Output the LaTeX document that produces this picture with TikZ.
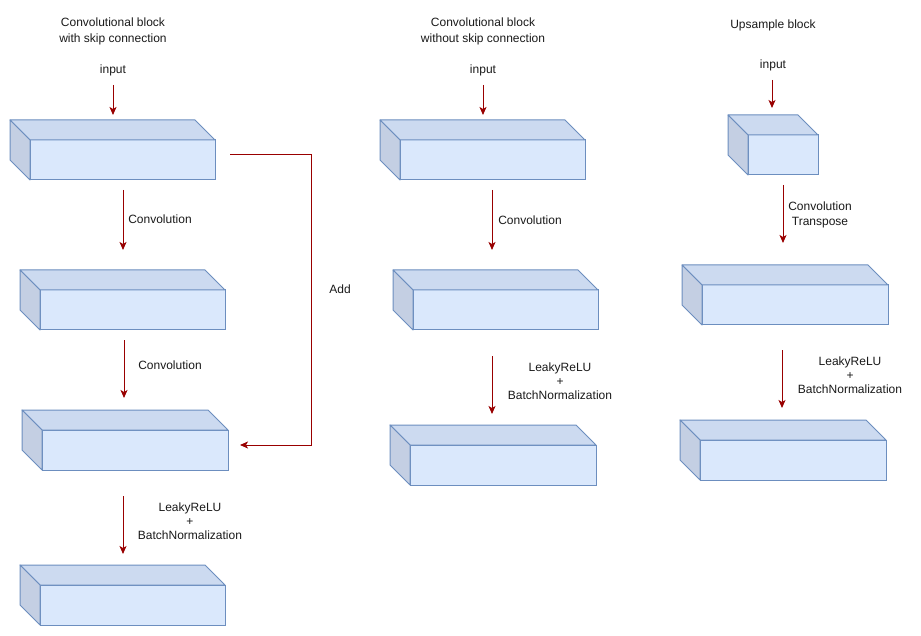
\documentclass[tikz,border=0pt]{standalone}
\usepackage{fontspec}
\setmainfont{Liberation Sans}
\usetikzlibrary{arrows.meta}
\definecolor{frontc}{HTML}{DAE8FC}
\definecolor{topc}{HTML}{CCDAF0}
\definecolor{sidec}{HTML}{C4CFE3}
\definecolor{edgec}{HTML}{6C8EBF}
\definecolor{arrc}{HTML}{990000}
\definecolor{txtc}{HTML}{1A1A1A}
\tikzset{
  frontface/.style={draw=edgec, fill=frontc, line width=1pt, inner sep=0pt, outer sep=0pt},
  topface/.style={draw=edgec, fill=topc, line width=1pt, line join=round},
  sideface/.style={draw=edgec, fill=sidec, line width=1pt, line join=round},
  flow/.style={draw=arrc, line width=1pt, -{Stealth[length=8pt,width=7pt,inset=2pt]}},
  lbl/.style={text=txtc, font=\fontsize{12}{14}\selectfont, align=center, inner sep=0pt},
}
% \cubebox{name}{back x}{back y}{w}{h}{d}
\newcommand{\cubebox}[6]{%
  \node[frontface, minimum width=#4pt, minimum height=#5pt] (#1) at ({#2+#6+#4/2},{#3+#6+#5/2}) {};
  \draw[topface] (#1.north west) -- ++(-#6,-#6) -- ++(#4,0) -- (#1.north east) -- cycle;
  \draw[sideface] (#1.north west) -- ++(-#6,-#6) -- ++(0,#5) -- (#1.south west) -- cycle;
}
\begin{document}
\begin{tikzpicture}[x=1pt,y=-1pt]
\useasboundingbox (0,0) rectangle (921,636);
\fill[white] (0,0) rectangle (921,636);

% ---------- column 1 ----------
\node[lbl] (t1) at (113,31) {Convolutional block\\[2pt]with skip connection};
\node[lbl] (in1) at (113,70) {input};
\cubebox{a1}{10}{120}{185}{40}{20}
\cubebox{a2}{20}{270}{185}{40}{20}
\cubebox{a3}{22}{410}{186}{40}{20}
\cubebox{a4}{20}{565}{185}{40}{20}

\coordinate (i1s) at (113,85);  \coordinate (i1e) at (113,115);
\coordinate (c1s) at (123,190); \coordinate (c1e) at (123,250);
\coordinate (c2s) at (124,340); \coordinate (c2e) at (124,398);
\coordinate (c3s) at (123,496); \coordinate (c3e) at (123,554);
\coordinate (k1) at (230,155);  \coordinate (k2) at (311,155);
\coordinate (k3) at (311,445);  \coordinate (k4) at (240,445);
\draw[flow] (i1s) -- (i1e);
\draw[flow] (c1s) -- (c1e);
\draw[flow] (c2s) -- (c2e);
\draw[flow] (c3s) -- (c3e);
\draw[flow] (k1) -- (k2) -- (k3) -- (k4);
\node[lbl] (l1) at (160,219) {Convolution};
\node[lbl] (l2) at (170,365) {Convolution};
\node[lbl] (l3) at (190,521) {LeakyReLU\\+\\BatchNormalization};
\node[lbl] (ladd) at (340,289) {Add};

% ---------- column 2 ----------
\node[lbl] (t2) at (483,31) {Convolutional block\\[2pt]without skip connection};
\node[lbl] (in2) at (483,70) {input};
\cubebox{b1}{380}{120}{185}{40}{20}
\cubebox{b2}{393}{270}{185}{40}{20}
\cubebox{b3}{390}{425}{186}{40}{20}
\coordinate (i2s) at (483,85);  \coordinate (i2e) at (483,115);
\coordinate (d1s) at (492,190); \coordinate (d1e) at (492,250);
\coordinate (d2s) at (492,356); \coordinate (d2e) at (492,414);
\draw[flow] (i2s) -- (i2e);
\draw[flow] (d1s) -- (d1e);
\draw[flow] (d2s) -- (d2e);
\node[lbl] (m1) at (530,220) {Convolution};
\node[lbl] (m2) at (560,381) {LeakyReLU\\+\\BatchNormalization};

% ---------- column 3 ----------
\node[lbl] (t3) at (773,25) {Upsample block};
\node[lbl] (in3) at (773,65) {input};
\cubebox{u1}{728}{115}{70}{40}{20}
\cubebox{u2}{682}{265}{186}{40}{20}
\cubebox{u3}{680}{420}{186}{40}{20}
\coordinate (i3s) at (772,80);  \coordinate (i3e) at (772,108);
\coordinate (e1s) at (783,185); \coordinate (e1e) at (783,243);
\coordinate (e2s) at (782,350); \coordinate (e2e) at (782,408);
\draw[flow] (i3s) -- (i3e);
\draw[flow] (e1s) -- (e1e);
\draw[flow] (e2s) -- (e2e);
\node[lbl] (n1) at (820,215) {Convolution\\[1pt]Transpose};
\node[lbl] (n2) at (850,375) {LeakyReLU\\+\\BatchNormalization};
\end{tikzpicture}
\end{document}
